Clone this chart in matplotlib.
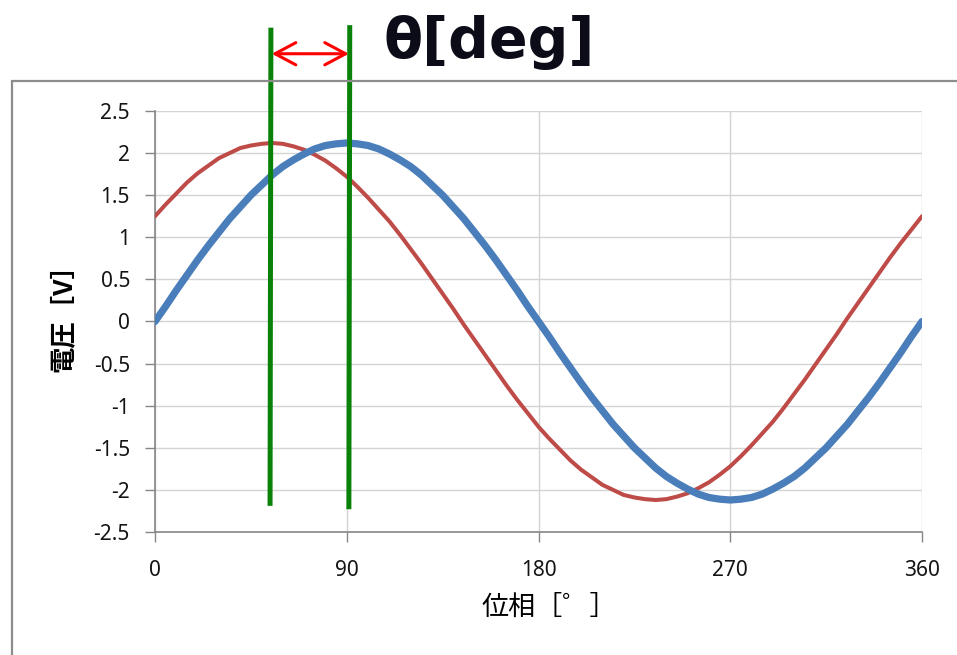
import numpy as np
import matplotlib.pyplot as plt
from matplotlib.patches import Rectangle

plt.rcParams['font.family'] = ['Noto Sans', 'Noto Sans CJK JP', 'DejaVu Sans']
plt.rcParams['axes.unicode_minus'] = False

# phase [deg] and the two voltage waveforms [V]
phase = [0, 5, 10, 15, 20, 25, 30, 35, 40, 45, 50, 55, 60, 65, 70, 75, 80, 85, 90,
         95, 100, 105, 110, 115, 120, 125, 130, 135, 140, 145, 150, 155, 160, 165, 170, 175, 180,
         185, 190, 195, 200, 205, 210, 215, 220, 225, 230, 235, 240, 245, 250, 255, 260, 265, 270,
         275, 280, 285, 290, 295, 300, 305, 310, 315, 320, 325, 330, 335, 340, 345, 350, 355, 360]
v_ref = [0.0, 0.18, 0.37, 0.55, 0.73, 0.90, 1.06, 1.22, 1.36, 1.50, 1.62, 1.74, 1.84, 1.92, 1.99, 2.05, 2.09, 2.11, 2.12,
         2.11, 2.09, 2.05, 1.99, 1.92, 1.84, 1.74, 1.62, 1.50, 1.36, 1.22, 1.06, 0.90, 0.73, 0.55, 0.37, 0.18, 0.0,
         -0.18, -0.37, -0.55, -0.73, -0.90, -1.06, -1.22, -1.36, -1.50, -1.62, -1.74, -1.84, -1.92, -1.99, -2.05, -2.09, -2.11, -2.12,
         -2.11, -2.09, -2.05, -1.99, -1.92, -1.84, -1.74, -1.62, -1.50, -1.36, -1.22, -1.06, -0.90, -0.73, -0.55, -0.37, -0.18, 0.0]
v_lead = [1.25, 1.39, 1.52, 1.65, 1.76, 1.85, 1.94, 2.00, 2.06, 2.09, 2.11, 2.12, 2.11, 2.08, 2.04, 1.98, 1.91, 1.82, 1.72,
          1.60, 1.47, 1.33, 1.19, 1.03, 0.86, 0.69, 0.51, 0.33, 0.15, -0.04, -0.22, -0.40, -0.58, -0.76, -0.93, -1.09, -1.25,
          -1.39, -1.52, -1.65, -1.76, -1.85, -1.94, -2.00, -2.06, -2.09, -2.11, -2.12, -2.11, -2.08, -2.04, -1.98, -1.91, -1.82, -1.72,
          -1.60, -1.47, -1.33, -1.19, -1.03, -0.86, -0.69, -0.51, -0.33, -0.15, 0.04, 0.22, 0.40, 0.58, 0.76, 0.93, 1.09, 1.25]

xticks = [0, 90, 180, 270, 360]
yticks = [2.5, 2, 1.5, 1, 0.5, 0, -0.5, -1, -1.5, -2, -2.5]
ytick_labels = ['2.5', '2', '1.5', '1', '0.5', '0', '-0.5', '-1', '-1.5', '-2', '-2.5']

# peaks of the two waves, marked with vertical bars
peak_lead = 54.4
peak_ref = 91.4

fig = plt.figure(figsize=(9.57, 6.55), dpi=100)

# chart area border (runs off the right and bottom edge)
fig.add_artist(Rectangle((12 / 957, -0.2), 1.2, 0.8763 + 0.2, transform=fig.transFigure,
                         fill=False, edgecolor='#8c8c8c', lw=1.6))

ax = fig.add_axes([155 / 957, 123 / 655, 767 / 957, 421 / 655])

ax.plot(phase, v_lead, color='#be4b48', lw=2.9, zorder=3, solid_capstyle='round')
ax.plot(phase, v_ref, color='#4a7ebb', lw=5.2, zorder=4, solid_capstyle='round')

ax.set_xlim(0, 360)
ax.set_ylim(-2.5, 2.5)
ax.set_xticks(xticks)
ax.set_yticks(yticks)
ax.set_yticklabels(ytick_labels)
ax.grid(True, color='#d4d4d4', lw=1)
ax.set_axisbelow(True)

for s in ['top', 'right']:
    ax.spines[s].set_visible(False)
for s in ['left', 'bottom']:
    ax.spines[s].set_color('#868686')
    ax.spines[s].set_linewidth(1.2)

ax.tick_params(axis='both', direction='out', length=7, width=1, color='#868686',
               labelsize=15, labelcolor='#141414')
ax.tick_params(axis='y', pad=11)
ax.tick_params(axis='x', pad=13)

ax.set_ylabel('電圧［V］', fontsize=19, fontweight='bold', family=['Noto Sans CJK JP', 'DejaVu Sans'])
ax.yaxis.set_label_coords(-0.12, 0.524)
ax.yaxis.label.set_va('center')
ax.set_xlabel('位相［゜］', fontsize=19.5, family=['Noto Sans CJK JP', 'DejaVu Sans'])
ax.xaxis.set_label_coords(0.514, -0.18)
ax.xaxis.label.set_va('center')

# phase difference markers
ax.plot([peak_lead, peak_lead - 0.4], [3.46, -2.16], color='#0a820a', lw=3.6, clip_on=False, zorder=6)
ax.plot([peak_ref, peak_ref - 0.4], [3.49, -2.2], color='#0a820a', lw=3.6, clip_on=False, zorder=6)
ax.annotate('', xy=(peak_ref - 0.4, 3.18), xytext=(peak_lead + 0.4, 3.18), annotation_clip=False,
            arrowprops=dict(arrowstyle='<->,head_length=0.75,head_width=0.4', color='#ff0000',
                            lw=2.2, mutation_scale=20, shrinkA=0, shrinkB=0))

fig.text(384 / 957, 1 - 58 / 655, 'θ[deg]', fontsize=41, fontweight='bold', color='#0c0c18',
         family='DejaVu Sans', ha='left', va='baseline')

plt.savefig('out.png', dpi=100)
plt.close()
